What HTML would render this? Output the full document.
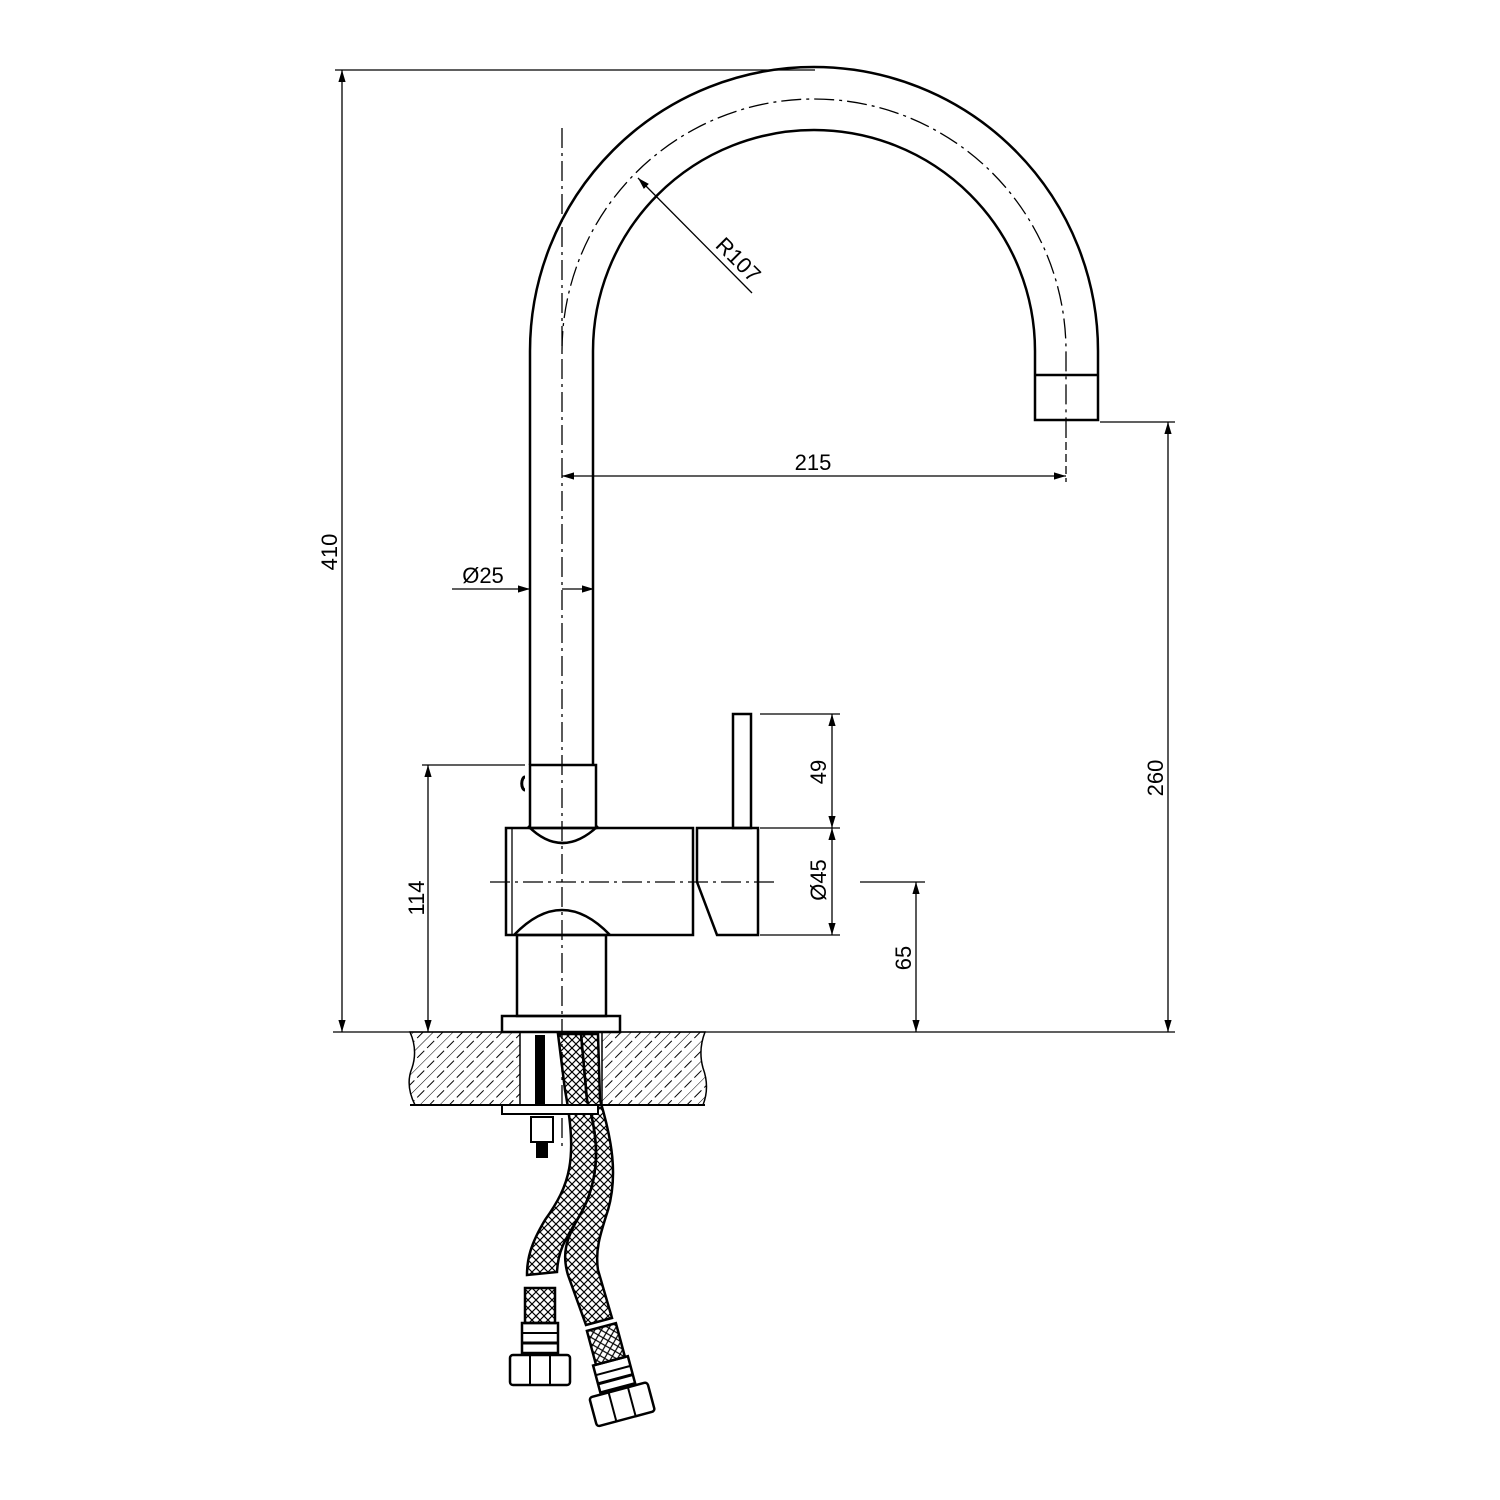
<!DOCTYPE html>
<html><head><style>body{margin:0;background:#fff}svg{display:block}text{font-family:"Liberation Sans",sans-serif;font-size:22px;fill:#000}</style></head>
<body>
<svg width="1500" height="1500" viewBox="0 0 1500 1500" xmlns="http://www.w3.org/2000/svg">
<defs>
<marker id="a" viewBox="0 0 10 10" refX="10" refY="5" markerWidth="12" markerHeight="12" markerUnits="userSpaceOnUse" orient="auto-start-reverse"><path d="M0,2 L10,5 L0,8z" fill="#000"/></marker>
<pattern id="h" width="14" height="14" patternUnits="userSpaceOnUse" patternTransform="rotate(45)"><line x1="0" y1="0" x2="0" y2="14" stroke="#000" stroke-width="1"/><line x1="7" y1="0" x2="7" y2="14" stroke="#000" stroke-width="1" stroke-dasharray="5,4"/></pattern>
<pattern id="b" width="8" height="8" patternUnits="userSpaceOnUse"><path d="M0,4 L4,0 M4,8 L8,4 M0,4 L4,8 M4,0 L8,4" stroke="#000" stroke-width="1.2" fill="none"/></pattern>
</defs>
<g fill="none" stroke="#000" stroke-width="2.5">
<path d="M530,765 L530,351 A284,284 0 0 1 1098,351 L1098,420 L1035,420 L1035,351 A221,221 0 0 0 593,351 L593,765"/>
<line x1="1035" y1="375" x2="1098" y2="375"/>
<rect x="530" y="765" width="66" height="63"/>
<path d="M506,828 L693,828 L693,935 L506,935 Z"/>
<path d="M528,826 Q562,860 598,826" />
<path d="M514,935 Q562,885 610,935"/>
<path d="M697,828 L758,828 L758,935 L717,935 L697,882 Z"/>
<rect x="733" y="714" width="18" height="114"/>
<rect x="517" y="935" width="89" height="81"/>
<rect x="502" y="1016" width="118" height="16"/>
</g>
<g fill="none" stroke="#000" stroke-width="1.3">
<path d="M512,828 L512,935"/>
<path d="M525,777 A3,6 0 1 0 525,790" stroke-width="3"/>
<line x1="562" y1="128" x2="562" y2="1150" stroke-dasharray="20,5,3,5"/>
<path d="M562,351 A252,252 0 0 1 1066,351 L1066,430" stroke-dasharray="20,5,3,5"/>
<line x1="490" y1="882" x2="778" y2="882" stroke-dasharray="20,5,3,5"/>
<line x1="1066" y1="430" x2="1066" y2="482" stroke-dasharray="8,4"/>
<line x1="335" y1="70" x2="815" y2="70"/>
<line x1="342" y1="70" x2="342" y2="1032" marker-start="url(#a)" marker-end="url(#a)"/>
<line x1="333" y1="1032" x2="1175" y2="1032"/>
<line x1="562" y1="476" x2="1066" y2="476" marker-start="url(#a)" marker-end="url(#a)"/>
<line x1="452" y1="589" x2="530" y2="589" marker-end="url(#a)"/>
<line x1="562" y1="589" x2="594" y2="589" marker-end="url(#a)"/>
<line x1="638" y1="178" x2="752" y2="293" marker-start="url(#a)"/>
<line x1="760" y1="714" x2="840" y2="714"/>
<line x1="760" y1="828" x2="840" y2="828"/>
<line x1="760" y1="935" x2="840" y2="935"/>
<line x1="832" y1="714" x2="832" y2="828" marker-start="url(#a)" marker-end="url(#a)"/>
<line x1="832" y1="828" x2="832" y2="935" marker-start="url(#a)" marker-end="url(#a)"/>
<line x1="860" y1="882" x2="925" y2="882"/>
<line x1="916" y1="882" x2="916" y2="1032" marker-start="url(#a)" marker-end="url(#a)"/>
<line x1="422" y1="765" x2="525" y2="765"/>
<line x1="428" y1="765" x2="428" y2="1032" marker-start="url(#a)" marker-end="url(#a)"/>
<line x1="1100" y1="422" x2="1175" y2="422"/>
<line x1="1168" y1="422" x2="1168" y2="1032" marker-start="url(#a)" marker-end="url(#a)"/>
</g>
<path d="M410,1032 L520,1032 L520,1105 L415,1105 Q405,1085 412,1068 Q418,1050 410,1032Z" fill="url(#h)" stroke="#000" stroke-width="1.5"/>
<path d="M602,1032 L705,1032 Q698,1050 703,1068 Q710,1087 703,1105 L602,1105Z" fill="url(#h)" stroke="#000" stroke-width="1.5"/>
<line x1="410" y1="1105" x2="705" y2="1105" stroke="#000" stroke-width="2"/>
<rect x="535" y="1035" width="10" height="70" fill="#000"/>
<!-- hoses -->
<path d="M558,1034 L565,1090 C578,1160 570,1185 545,1220 C530,1245 527,1260 527,1275 L557,1272 C558,1250 565,1240 580,1215 C600,1180 600,1140 587,1100 L581,1034 Z" fill="url(#b)" stroke="#000" stroke-width="2.5"/>
<path d="M581,1034 L587,1100 C600,1140 600,1180 580,1215 C565,1240 562,1255 568,1275 L586,1325 L612,1318 L598,1270 C595,1250 600,1235 608,1210 C618,1175 612,1140 600,1100 L598,1034 Z" fill="url(#b)" stroke="#000" stroke-width="2.5"/>
<rect x="502" y="1105" width="96" height="9" fill="#fff" stroke="#000" stroke-width="2"/>
<rect x="531" y="1117" width="22" height="25" fill="#fff" stroke="#000" stroke-width="2"/>
<rect x="536" y="1142" width="12" height="16" fill="#000"/>
<rect x="525" y="1288" width="30" height="35" fill="url(#b)" stroke="#000" stroke-width="2.5"/>
<rect x="522" y="1323" width="36" height="30" fill="none" stroke="#000" stroke-width="2.5"/>
<line x1="522" y1="1333" x2="558" y2="1333" stroke="#000" stroke-width="2"/><line x1="522" y1="1343" x2="558" y2="1343" stroke="#000" stroke-width="3"/>
<rect x="510" y="1355" width="60" height="30" rx="3" fill="none" stroke="#000" stroke-width="2.5"/>
<line x1="530" y1="1355" x2="530" y2="1385" stroke="#000" stroke-width="2"/><line x1="550" y1="1355" x2="550" y2="1385" stroke="#000" stroke-width="2"/>
<g transform="rotate(-15 615 1370)">
<rect x="598" y="1325" width="30" height="35" fill="url(#b)" stroke="#000" stroke-width="2.5"/>
<rect x="595" y="1360" width="36" height="28" fill="none" stroke="#000" stroke-width="2.5"/>
<line x1="595" y1="1370" x2="631" y2="1370" stroke="#000" stroke-width="2"/><line x1="595" y1="1379" x2="631" y2="1379" stroke="#000" stroke-width="3"/>
<rect x="583" y="1390" width="60" height="30" rx="3" fill="none" stroke="#000" stroke-width="2.5"/>
<line x1="603" y1="1390" x2="603" y2="1420" stroke="#000" stroke-width="2"/><line x1="623" y1="1390" x2="623" y2="1420" stroke="#000" stroke-width="2"/>
</g>
<text x="813" y="470" text-anchor="middle">215</text>
<text x="483" y="583" text-anchor="middle">Ø25</text>
<text transform="translate(733,265) rotate(45)" text-anchor="middle">R107</text>
<text transform="translate(337,552) rotate(-90)" text-anchor="middle">410</text>
<text transform="translate(424,898) rotate(-90)" text-anchor="middle">114</text>
<text transform="translate(826,772) rotate(-90)" text-anchor="middle">49</text>
<text transform="translate(826,880) rotate(-90)" text-anchor="middle">Ø45</text>
<text transform="translate(911,958) rotate(-90)" text-anchor="middle">65</text>
<text transform="translate(1163,778) rotate(-90)" text-anchor="middle">260</text>
</svg>
</body></html>
